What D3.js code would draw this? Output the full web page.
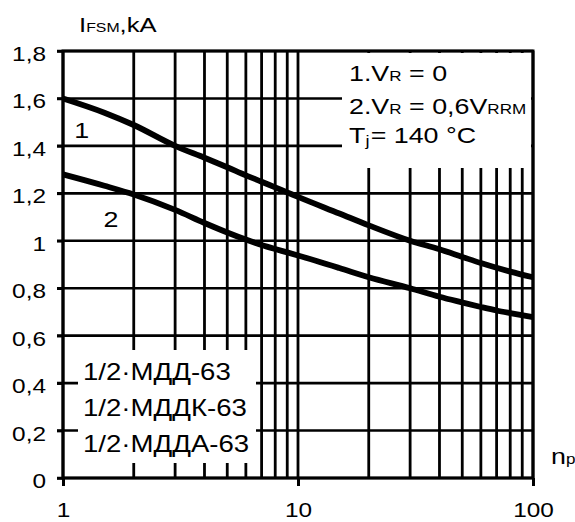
<!DOCTYPE html>
<html><head><meta charset="utf-8">
<script src="https://cdn.jsdelivr.net/npm/d3@7"></script>
<style>
body{margin:0;background:#fff}
svg{display:block}
text{font-family:"Liberation Sans",Arial,Helvetica,sans-serif;fill:#000}
</style>
</head><body>
<script>
// ---- data ----
const nValues = [1, 1.5, 2, 3, 4, 5, 6, 7, 8, 9, 10, 15, 20, 30, 40, 50, 60, 70, 80, 100];
const curve1  = [1.60, 1.54, 1.488, 1.40, 1.35, 1.31, 1.276, 1.249, 1.225, 1.204, 1.185, 1.115, 1.065, 1.00, 0.964, 0.932, 0.906, 0.886, 0.870, 0.846];
const curve2  = [1.28, 1.232, 1.195, 1.13, 1.075, 1.035, 1.005, 0.982, 0.965, 0.951, 0.938, 0.885, 0.846, 0.80, 0.764, 0.740, 0.721, 0.706, 0.695, 0.678];
const xGridValues = [1,2,3,4,5,6,7,8,9,10,20,30,40,50,60,70,80,90,100];
const xTickValues = [1, 10, 100];
const xTickLabels = ["1", "10", "100"];
const yTickValues = [0, 0.2, 0.4, 0.6, 0.8, 1.0, 1.2, 1.4, 1.6, 1.8];
const yTickLabels = ["0", "0,2", "0,4", "0,6", "0,8", "1", "1,2", "1,4", "1,6", "1,8"];
const seriesNames = ["1", "2"];
const deviceLines = ["1/2·МДД-63", "1/2·МДДК-63", "1/2·МДДА-63"];
const conditionLines = [
  [["1.V",0],["R",1],[" = 0",0]],
  [["2.V",0],["R",1],[" = 0,6V",0],["RRM",1]],
  [["T",0],["j",2],["= 140 °C",0]]
];

// ---- layout ----
const W = 575, H = 522;
const L = 63, R = 533, T = 51, B = 478;
const SX = 1.22;

const svg = d3.select("body").append("svg").attr("width", W).attr("height", H);
const x = d3.scaleLog().domain([1, 100]).range([L, R]);
const y = d3.scaleLinear().domain([0, 1.8]).range([B, T]);

// grid
const g = svg.append("g");
g.selectAll(".hg").data(yTickValues).join("line")
  .attr("x1", L - 6).attr("x2", R).attr("y1", d => y(d)).attr("y2", d => y(d))
  .attr("stroke", "#000").attr("stroke-width", 2.6);
g.selectAll(".vg").data(xGridValues).join("line")
  .attr("x1", d => x(d)).attr("x2", d => x(d)).attr("y1", T).attr("y2", B)
  .attr("stroke", "#000").attr("stroke-width", 2.8);

// white text boxes masking grid
svg.append("rect").attr("x", 342).attr("y", T + 2).attr("width", R - 2 - 342).attr("height", 168 - T - 2).attr("fill", "#fff");
svg.append("rect").attr("x", 78).attr("y", 350).attr("width", 256 - 78).attr("height", 463 - 350).attr("fill", "#fff");

// frame
svg.append("rect").attr("x", L).attr("y", T).attr("width", R - L).attr("height", B - T)
  .attr("fill", "none").attr("stroke", "#000").attr("stroke-width", 3);

// axes (ticks)
const ax = svg.append("g").attr("transform", `translate(0,${B})`)
  .call(d3.axisBottom(x).tickValues(xTickValues).tickSize(8).tickFormat((d,i) => xTickLabels[i]));
ax.select(".domain").remove();
ax.selectAll("line").attr("stroke-width", 3);
ax.selectAll("text").attr("y", null).attr("dy", null)
  .attr("transform", `translate(0,39) scale(${SX},1)`)
  .attr("font-size", 20).attr("text-anchor", "middle").attr("fill", "#000");

const ay = svg.append("g").attr("transform", `translate(${L},0)`)
  .call(d3.axisLeft(y).tickValues(yTickValues).tickSize(6).tickFormat((d,i) => yTickLabels[i]));
ay.select(".domain").remove();
ay.selectAll("line").attr("stroke-width", 2.6);
ay.selectAll("text").attr("x", null).attr("dy", null)
  .attr("transform", `translate(-17,9.5) scale(${SX},1)`)
  .attr("font-size", 20).attr("text-anchor", "end").attr("fill", "#000");

// curves
const line = d3.line().x((d, i) => x(nValues[i])).y(d => y(d)).curve(d3.curveMonotoneX);
[curve1, curve2].forEach(c => {
  svg.append("path").datum(c).attr("d", line)
    .attr("fill", "none").attr("stroke", "#000").attr("stroke-width", 5.8).attr("stroke-linecap", "butt");
});

// helper for stretched text
function stext(px, py, size, anchor, sx) {
  return svg.append("text").attr("transform", `translate(${px},${py}) scale(${sx || SX},1)`)
    .attr("font-size", size).attr("text-anchor", anchor || "start");
}

// series labels
stext(x(1.2), y(1.433), 22, "middle").text(seriesNames[0]);
stext(x(1.6), y(1.06), 22, "middle").text(seriesNames[1]);

// title
const tt = stext(79, 32, 21);
tt.append("tspan").text("I");
tt.append("tspan").attr("font-size", 13).text("FSM");
tt.append("tspan").text(",kA");

// np
const np = stext(551, 464, 22);
np.append("tspan").text("n");
np.append("tspan").attr("font-size", 14).text("p");

// condition legend
const condY = [81, 114, 143];
conditionLines.forEach((parts, i) => {
  const t = stext(349, condY[i], 22);
  parts.forEach(([s, k]) => {
    const ts = t.append("tspan").text(s);
    if (k === 1) ts.attr("font-size", 14);
    if (k === 2) ts.attr("font-size", 15).attr("dy", 3);
    if (k === 0 && i === 2 && s.startsWith("=")) ts.attr("dy", -3).attr("dx", 1);
  });
});

// device legend
const devY = [380, 416, 452];
deviceLines.forEach((s, i) => stext(83, devY[i], 23, "start", 1.2).text(s));
</script>
</body></html>
